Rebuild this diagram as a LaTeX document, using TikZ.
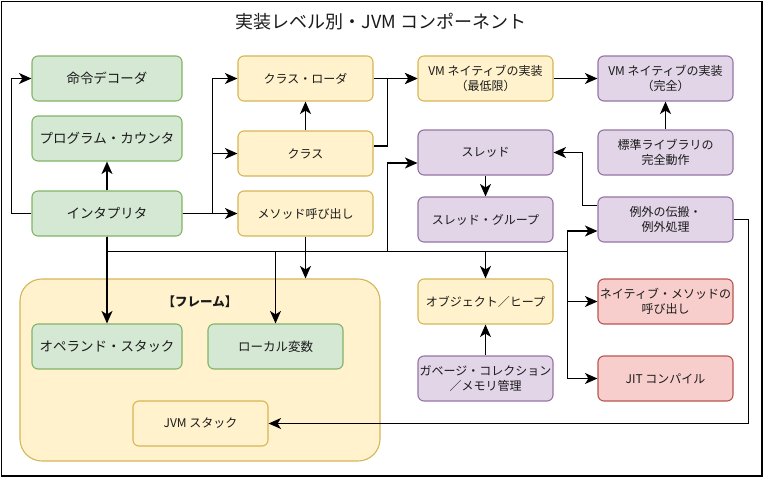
\documentclass[tikz,border=0pt]{standalone}
\usepackage{fontspec}
\setmainfont{Noto Sans CJK JP}
\usetikzlibrary{arrows.meta,calc}
\definecolor{gfill}{HTML}{D5E8D4}\definecolor{gstroke}{HTML}{82B366}
\definecolor{yfill}{HTML}{FFF2CC}\definecolor{ystroke}{HTML}{D6B656}
\definecolor{pfill}{HTML}{E1D5E7}\definecolor{pstroke}{HTML}{9673A6}
\definecolor{rfill}{HTML}{F8CECC}\definecolor{rstroke}{HTML}{B85450}
\definecolor{txt}{HTML}{1A1A1A}
\tikzset{
  base/.style={draw, rounded corners=6pt, line width=1.1pt, minimum height=45pt, align=center, inner sep=1pt, text=txt, font=\fontsize{12}{14.5}\selectfont},
  grnbox/.style={base, fill=gfill, draw=gstroke, minimum width=150pt},
  ylwbox/.style={base, fill=yfill, draw=ystroke, minimum width=135pt},
  prpbox/.style={base, fill=pfill, draw=pstroke, minimum width=135pt},
  rdbox/.style={base, fill=rfill, draw=rstroke, minimum width=135pt},
  big/.style={font=\fontsize{13.5}{16}\selectfont},
  arr/.style={-{Stealth[length=12.5pt,width=11pt,inset=3.5pt]}, line width=1.4pt},
}
\begin{document}
\begin{tikzpicture}[x=1pt,y=-1pt]
\useasboundingbox (0,0) rectangle (764,477);
\draw[line width=1.2pt] (1.5,1.5) rectangle (762,476);
\node[font=\fontsize{18}{20}\selectfont, text=txt] (title) at (381,22) {実装レベル別・JVM コンポーネント};

% frame container
\node[draw=ystroke, fill=yfill, line width=1.1pt, rounded corners=22pt, minimum width=360pt, minimum height=182pt] (frame) at (200,370) {};
\node[font=\bfseries\fontsize{12.5}{14}\selectfont, text=txt] (framelbl) at (200,302) {【フレーム】};

% green
\node[grnbox, big] (dec) at (107,78.5) {命令デコーダ};
\node[grnbox, big] (pc) at (107,138.5) {プログラム・カウンタ};
\node[grnbox, big] (interp) at (107,213.5) {インタプリタ};
\node[grnbox, big] (ops) at (107,346.5) {オペランド・スタック};
\node[grnbox, minimum width=135pt, font=\fontsize{12.5}{14}\selectfont] (lv) at (275.5,346.5) {ローカル変数};

% yellow
\node[ylwbox] (cl) at (305.5,78.5) {クラス・ローダ};
\node[ylwbox] (cls) at (305.5,153.5) {クラス};
\node[ylwbox] (mc) at (305.5,213.5) {メソッド呼び出し};
\node[ylwbox] (vmmin) at (485.5,78.5) {VM ネイティブの実装\\（最低限）};
\node[ylwbox] (heap) at (485.5,301.5) {オブジェクト／ヒープ};
\node[ylwbox] (jvms) at (200.5,423.5) {JVM スタック};

% purple
\node[prpbox] (vmfull) at (665.5,78.5) {VM ネイティブの実装\\（完全）};
\node[prpbox] (thr) at (485.5,152.5) {スレッド};
\node[prpbox] (stdlib) at (665.5,152.5) {標準ライブラリの\\完全動作};
\node[prpbox] (tg) at (485.5,219.5) {スレッド・グループ};
\node[prpbox] (exc) at (665.5,219.5) {例外の伝搬・\\例外処理};
\node[prpbox] (gc) at (485.5,378.5) {ガベージ・コレクション\\／メモリ管理};

% red
\node[rdbox] (native) at (665.5,301.5) {ネイティブ・メソッドの\\呼び出し};
\node[rdbox] (jit) at (665.5,378.5) {JIT コンパイル};

% connectors
\draw[arr] (interp.west) -- ++(-20,0) |- (dec.west);
\draw[arr] (interp.north) -- (pc.south);
\draw[arr] (interp.east) -- ++(30,0) |- (cl.west);
\draw[arr] (interp.east) -- ++(30,0) |- (cls.west);
\draw[arr] (interp.east) -- (mc.west);
\draw[arr] (cls.north) -- (cl.south);
\draw[arr] (cl.east) -- ++(15,0) |- (vmmin.west);
\draw[arr] ($(cls.east)+(0,-7.5)$) -| ($(vmmin.west)+(-30,0)$) -- (vmmin.west);
\draw[arr] (vmmin.east) -- (vmfull.west);
\draw[arr] (stdlib.north) -- (vmfull.south);
\draw[arr] (thr.south) -- (tg.north);
\draw[arr] (gc.north) -- (heap.south);
\draw[arr] ($(exc.west)+(0,-14)$) -| ($(thr.east)+(29,0)$) -- (thr.east);
\draw[arr] (exc.east) -- ++(15,0) |- (jvms.east);
\draw[arr] (mc.south) -- (mc.south |- frame.north);

\draw[arr] (interp.south) -- (ops.north);
\draw[arr] (interp.south) -- ++(0,15) -| (lv.north);
\draw[arr] (interp.south) -- ++(0,15) -| ($(thr.west)+(-30,10.5)$) -- ($(thr.west)+(0,10.5)$);
\draw[arr] (interp.south) -- ++(0,15) -| (heap.north);
\draw[arr] (interp.south) -- ++(0,15) -| ($(exc.west)+(-30,11.5)$) -- ($(exc.west)+(0,11.5)$);
\draw[arr] (interp.south) -- ++(0,15) -| ($(native.west)+(-30,0)$) -- (native.west);
\draw[arr] (interp.south) -- ++(0,15) -| ($(jit.west)+(-30,0)$) -- (jit.west);
\end{tikzpicture}
\end{document}
